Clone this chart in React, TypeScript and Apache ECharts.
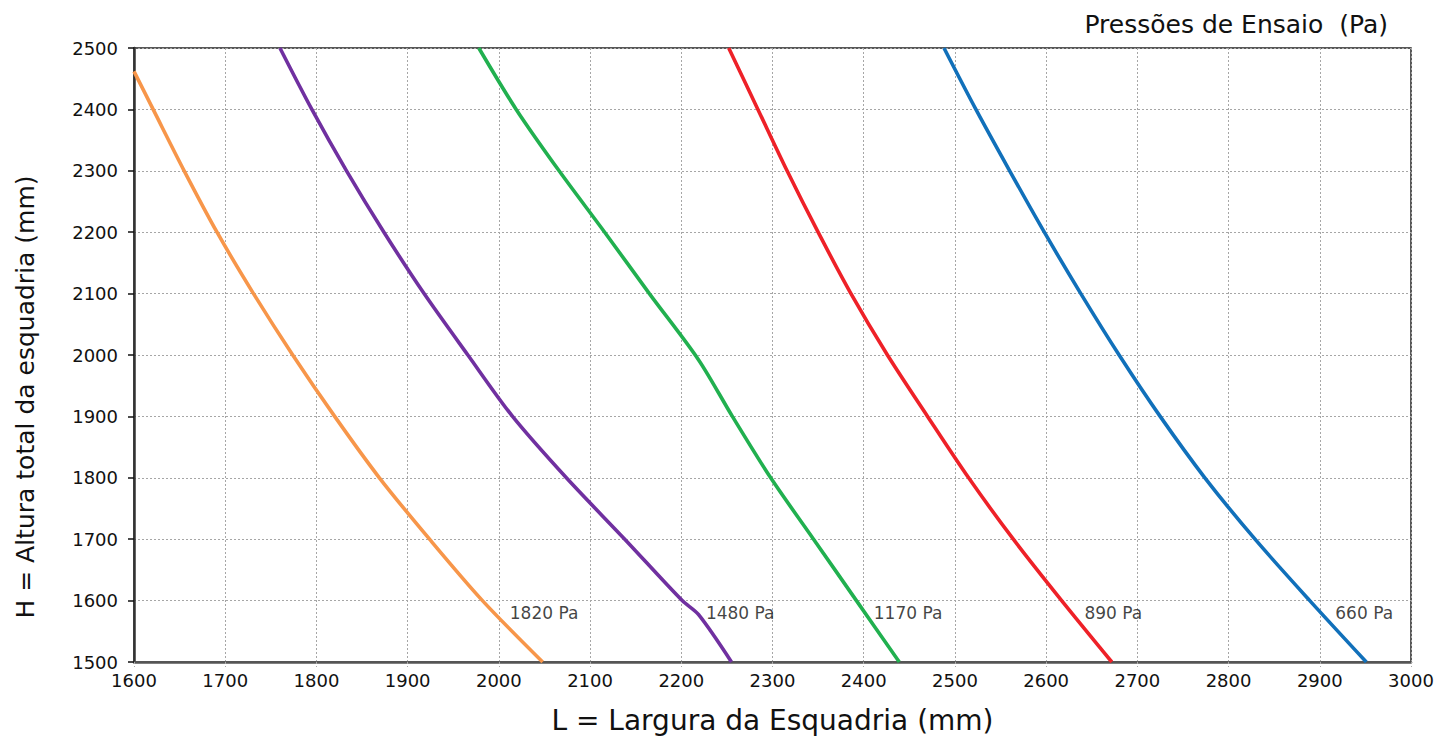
import React, { useEffect, useRef } from "react";
import * as echarts from "echarts";

const seriesNames = ["1820 Pa", "1480 Pa", "1170 Pa", "890 Pa", "660 Pa"];
const seriesColors = ["#F7964A", "#7030A0", "#21B04F", "#EE2128", "#1170BA"];

const curve1820: [number, number][] = [
  [1600, 2462], [1621, 2400], [1655, 2300], [1691, 2200], [1731, 2100], [1774, 2000],
  [1820, 1900], [1869, 1800], [1924, 1700], [1982, 1600], [2048, 1500],
];
const curve1480: [number, number][] = [
  [1760, 2500], [1795, 2400], [1833, 2300], [1874, 2200], [1918, 2100], [1966, 2000],
  [2015, 1900], [2074, 1800], [2138, 1700], [2201, 1600], [2219, 1577], [2255, 1500],
];
const curve1170: [number, number][] = [
  [1978, 2500], [2019, 2400], [2066, 2300], [2116, 2200], [2165, 2100],
  [2219, 1992], [2256, 1900], [2298, 1800], [2345, 1700], [2392, 1600], [2439, 1500],
];
const curve890: [number, number][] = [
  [2252, 2500], [2284, 2400], [2316, 2300], [2350, 2200], [2386, 2100], [2426, 2000],
  [2470, 1900], [2515, 1800], [2564, 1700], [2617, 1600], [2672, 1500],
];
const curve660: [number, number][] = [
  [2488, 2500], [2523, 2400], [2560, 2300], [2598, 2200], [2638, 2100], [2680, 2000],
  [2725, 1900], [2774, 1800], [2829, 1700], [2889, 1600], [2951, 1500],
];
const curves = [curve1820, curve1480, curve1170, curve890, curve660];

// label anchor positions (left edge of text) in data coordinates
const labelPositions: [number, number][] = [
  [2012, 1580], [2227, 1580], [2411, 1580], [2642, 1580], [2917, 1580],
];

const xMin = 1600, xMax = 3000, xStep = 100;
const yMin = 1500, yMax = 2500, yStep = 100;

const titleText = "Pressões de Ensaio  (Pa)";
const xName = "L = Largura da Esquadria (mm)";
const yName = "H = Altura total da esquadria (mm)";

const FONT = "'DejaVu Sans', 'Noto Sans', sans-serif";

export default function App() {
  const ref = useRef<HTMLDivElement>(null);
  useEffect(() => {
    if (!ref.current) return;
    const chart = echarts.init(ref.current, undefined, { renderer: "svg" });
    const lineSeries = curves.map((c, i) => ({
      type: "line",
      name: seriesNames[i],
      data: c,
      showSymbol: false,
      symbol: "none",
      smooth: 0.3,
      lineStyle: { color: seriesColors[i], width: 3.6 },
      z: 3,
    }));
    const labelSeries = {
      type: "scatter",
      symbolSize: 0,
      data: labelPositions.map((p, i) => ({ value: p, name: seriesNames[i] })),
      label: {
        show: true,
        position: "right",
        distance: 0,
        formatter: (p: any) => p.name,
        color: "#111",
        fontSize: 17,
        fontFamily: FONT,
      },
      silent: true,
      z: 4,
    };
    chart.setOption({
      animation: false,
      backgroundColor: "#ffffff",
      textStyle: { fontFamily: FONT },
      title: {
        text: titleText,
        right: 47,
        top: 7,
        textStyle: { fontSize: 25, fontWeight: "normal", color: "#111", fontFamily: FONT },
      },
      graphic: [
        {
          type: "text",
          x: 25,
          y: 397,
          rotation: Math.PI / 2,
          style: {
            text: yName,
            fontSize: 25,
            fontFamily: FONT,
            fill: "#111",
            align: "center",
            verticalAlign: "middle",
          },
        },
      ],
      grid: {
        left: 134,
        right: 29,
        top: 48,
        bottom: 91,
        show: true,
        borderColor: "#222",
        borderWidth: 1.5,
      },
      xAxis: {
        type: "value",
        min: xMin,
        max: xMax,
        interval: xStep,
        name: xName,
        nameLocation: "middle",
        nameGap: 44,
        nameTextStyle: { fontSize: 28, color: "#111", fontFamily: FONT },
        axisLine: { show: true, lineStyle: { color: "#555", width: 2.5 } },
        axisTick: { show: true, length: 5, lineStyle: { color: "#aaa", type: [2, 2] } },
        axisLabel: {
          fontSize: 18,
          color: "#111",
          margin: 9,
          fontFamily: FONT,
          formatter: (v: number) => String(v),
        },
        splitLine: { show: true, lineStyle: { color: "#a6a6a6", width: 1, type: [2, 2] } },
      },
      yAxis: {
        type: "value",
        min: yMin,
        max: yMax,
        interval: yStep,
        axisLine: { show: true, lineStyle: { color: "#333", width: 2.5 } },
        axisTick: { show: true, length: 6, lineStyle: { color: "#111", width: 1.5 } },
        axisLabel: {
          fontSize: 18,
          color: "#111",
          margin: 16,
          fontFamily: FONT,
          formatter: (v: number) => String(v),
        },
        splitLine: { show: true, lineStyle: { color: "#a6a6a6", width: 1, type: [2, 2] } },
      },
      series: [...lineSeries, labelSeries],
    });
    return () => chart.dispose();
  }, []);
  return (
    <div
      ref={ref}
      style={{ position: "fixed", left: 0, top: 0, width: 1440, height: 753, background: "#fff" }}
    />
  );
}
